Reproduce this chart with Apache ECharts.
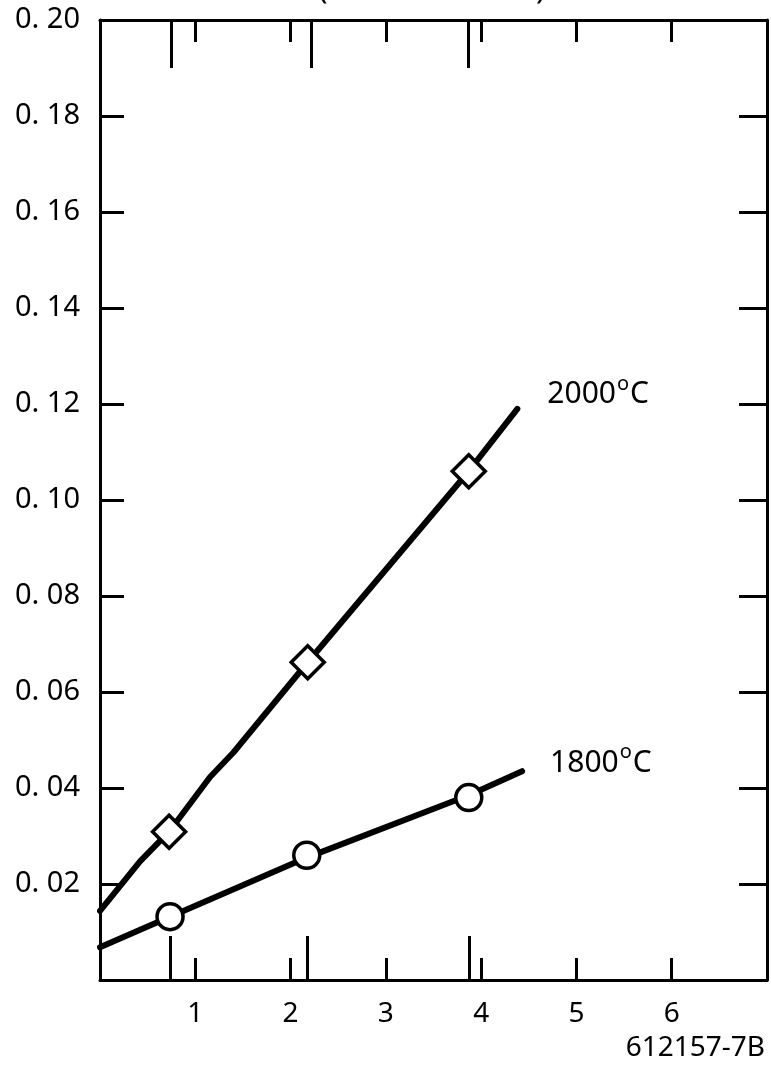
<!DOCTYPE html>
<html>
<head>
<meta charset="utf-8">
<script src="https://cdn.jsdelivr.net/npm/echarts@6/dist/echarts.min.js"></script>
<style>
    html, body { margin: 0; padding: 0; background: #fff; }
    #chart { width: 771px; height: 1090px; }
</style>
</head>
<body>
<div id="chart"></div>
<script>
// data
var x2000 = [0.725, 2.18, 3.87];
var y2000 = [0.0309, 0.0662, 0.106];
var x1800 = [0.735, 2.17, 3.87];
var y1800 = [0.0132, 0.026, 0.038];

// drawn curves (hand-drawn lines through the points)
var line2000X = [0, 0.42, 0.725, 1.155, 1.40, 2.18, 3.87, 4.38];
var line2000Y = [0.0144, 0.0247, 0.0309, 0.0423, 0.0474, 0.0662, 0.106, 0.119];
var line1800X = [0, 0.735, 2.17, 3.87, 4.43];
var line1800Y = [0.0068, 0.0132, 0.0255, 0.0385, 0.0435];

// long ticks marking the sample positions
var longTicksBottom = [0.735, 2.17, 3.87];
var longTicksTop = [0.75, 2.22, 3.86];

var xLabels = [1, 2, 3, 4, 5, 6];
var seriesNames = ['2000', '1800'];

function pairs(xs, ys) {
    var out = [];
    for (var i = 0; i < xs.length; i++) {
        out.push([xs[i], ys[i]]);
    }
    return out;
}

var font = 'Noto Sans';
var black = '#000';

function xAx(pos, opts) {
    var a = {
        type: 'value',
        position: pos,
        min: 0,
        max: 7,
        interval: 1,
        splitLine: { show: false },
        axisLine: { show: true, onZero: false, lineStyle: { color: black, width: 3 } },
        axisTick: { show: true, inside: true, length: 22, lineStyle: { color: black, width: 3 } },
        axisLabel: { show: false }
    };
    for (var k in opts) a[k] = opts[k];
    return a;
}

function yAx(pos, opts) {
    var a = {
        type: 'value',
        position: pos,
        min: 0,
        max: 0.2,
        interval: 0.02,
        splitLine: { show: false },
        axisLine: { show: true, onZero: false, lineStyle: { color: black, width: 3 } },
        axisTick: { show: true, inside: true, length: 24, lineStyle: { color: black, width: 3 } },
        axisLabel: { show: false }
    };
    for (var k in opts) a[k] = opts[k];
    return a;
}

var chart = echarts.init(document.getElementById('chart'));
var option = {
    backgroundColor: '#fff',
    animation: false,
    grid: { left: 100, top: 20, right: 4, bottom: 110 },
    xAxis: [
        xAx('bottom', {
            axisLabel: {
                show: true,
                color: black,
                fontFamily: font,
                fontSize: 28,
                margin: 20,
                formatter: function(v) {
                    return xLabels.indexOf(v) >= 0 ? String(v) : '';
                }
            }
        }),
        xAx('bottom', {
            axisLine: { show: false, onZero: false },
            axisTick: { show: true, inside: true, length: 44, customValues: longTicksBottom, lineStyle: { color: black, width: 3 } }
        }),
        xAx('top', {}),
        xAx('top', {
            axisLine: { show: false, onZero: false },
            axisTick: { show: true, inside: true, length: 48, customValues: longTicksTop, lineStyle: { color: black, width: 3 } }
        })
    ],
    yAxis: [
        yAx('left', {
            axisLabel: {
                show: true,
                color: black,
                fontFamily: font,
                fontSize: 29,
                margin: 20,
                formatter: function(v) {
                    if (v === 0) return '';
                    return v.toFixed(2).replace('.', '. ');
                }
            }
        }),
        yAx('right', {
            axisTick: { show: true, inside: true, length: 28, lineStyle: { color: black, width: 3 } }
        })
    ],
    series: [
        {
            name: seriesNames[0],
            type: 'line',
            data: pairs(line2000X, line2000Y),
            showSymbol: false,
            smooth: false,
            lineStyle: { color: black, width: 6, cap: 'round', join: 'round' },
            endLabel: {
                show: true,
                formatter: '{a|2000}{b|o}{a|C}',
                offset: [22, -14],
                rich: {
                    a: { fontFamily: font, fontSize: 30, color: black },
                    b: { fontFamily: font, fontSize: 20, color: black, padding: [0, 1, 22, 1] }
                }
            },
            z: 2
        },
        {
            name: seriesNames[1],
            type: 'line',
            data: pairs(line1800X, line1800Y),
            showSymbol: false,
            lineStyle: { color: black, width: 6, cap: 'round', join: 'round' },
            endLabel: {
                show: true,
                formatter: '{a|1800}{b|o}{a|C}',
                offset: [20, -8],
                rich: {
                    a: { fontFamily: font, fontSize: 30, color: black },
                    b: { fontFamily: font, fontSize: 20, color: black, padding: [0, 1, 22, 1] }
                }
            },
            z: 2
        },
        {
            type: 'scatter',
            data: pairs(x2000, y2000),
            symbol: 'diamond',
            symbolSize: 33,
            itemStyle: { color: '#fff', borderColor: black, borderWidth: 3.5, opacity: 1 },
            z: 5
        },
        {
            type: 'scatter',
            data: pairs(x1800, y1800),
            symbol: 'circle',
            symbolSize: 26,
            itemStyle: { color: '#fff', borderColor: black, borderWidth: 3.5, opacity: 1 },
            z: 5
        }
    ],
    graphic: [
        {
            type: 'text',
            right: 6,
            top: 1034,
            style: { text: '612157-7B', font: '28px "Noto Sans"', fill: black }
        },
        {
            type: 'text',
            left: 318,
            top: -26,
            style: { text: '(', font: '32px "Noto Sans"', fill: black }
        },
        {
            type: 'text',
            left: 536,
            top: -26,
            style: { text: ')', font: '32px "Noto Sans"', fill: black }
        }
    ]
};
chart.setOption(option);
</script>
</body>
</html>
